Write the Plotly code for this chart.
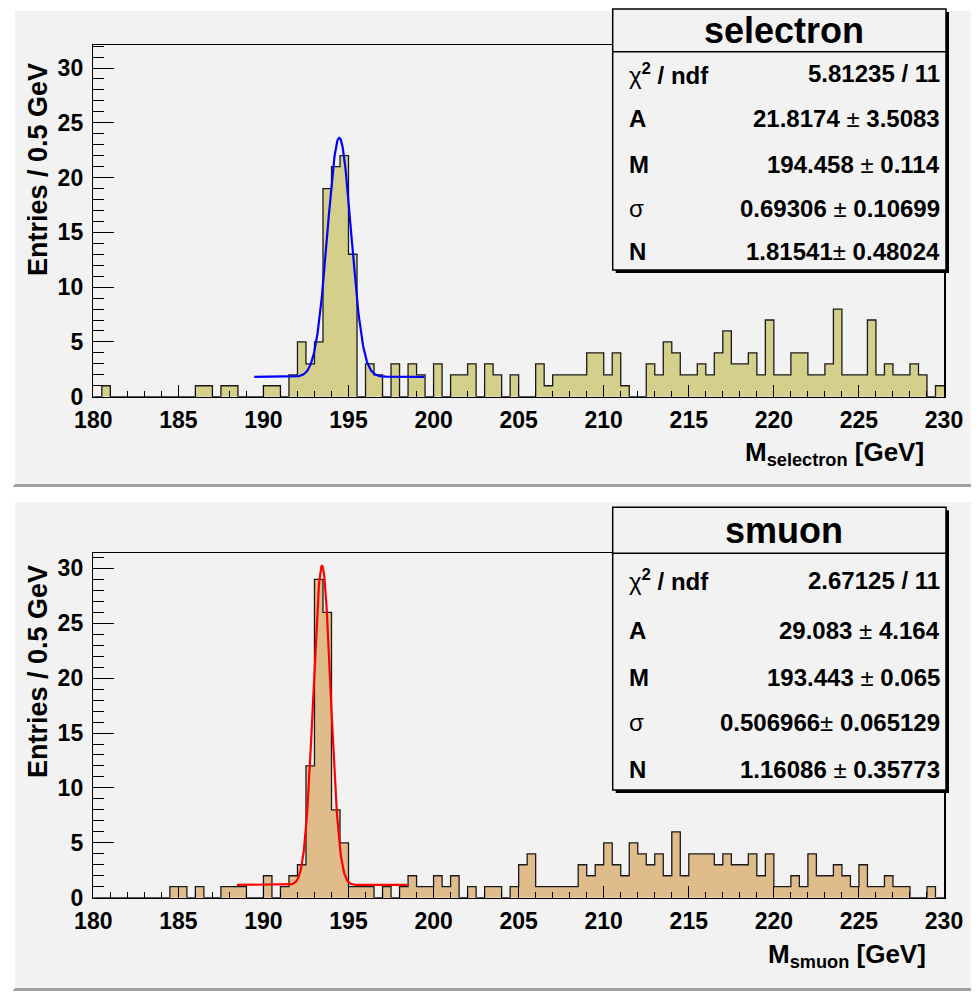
import numpy as np
import plotly.graph_objects as go

# ---------------- data ----------------
bin_lo, bin_hi, bin_width = 180.0, 230.0, 0.5

selectron_counts = [
    0, 1, 0, 0, 0, 0, 0, 0, 0, 0,
    0, 0, 1, 1, 0, 1, 1, 0, 0, 0,
    1, 1, 0, 2, 5, 3, 5, 19, 21, 22,
    13, 0, 3, 2, 0, 3, 0, 3, 2, 0,
    3, 0, 2, 2, 3, 0, 3, 2, 0, 2,
    0, 0, 3, 1, 2, 2, 2, 2, 4, 4,
    2, 4, 1, 0, 0, 3, 2, 5, 4, 2,
    2, 3, 2, 4, 6, 3, 3, 4, 2, 7,
    2, 2, 4, 4, 2, 2, 3, 8, 2, 2,
    2, 7, 2, 3, 2, 2, 3, 2, 0, 1,
]

smuon_counts = [
    0, 0, 0, 0, 0, 0, 0, 0, 0, 1,
    1, 0, 1, 0, 0, 1, 1, 1, 0, 0,
    2, 0, 1, 2, 3, 12, 29, 26, 8, 5,
    1, 1, 1, 0, 1, 0, 1, 2, 1, 1,
    2, 1, 2, 0, 1, 0, 1, 1, 0, 1,
    3, 4, 1, 1, 1, 1, 1, 3, 2, 3,
    5, 3, 2, 5, 4, 3, 4, 2, 6, 2,
    4, 4, 4, 3, 4, 3, 3, 4, 2, 4,
    1, 1, 2, 1, 4, 2, 2, 3, 2, 1,
    3, 1, 1, 2, 1, 1, 0, 0, 1, 0,
]

# fit results (Gaussian + constant), as printed in the stat boxes
sel_A, sel_M, sel_sigma, sel_N = 21.8174, 194.458, 0.69306, 1.81541
smu_A, smu_M, smu_sigma, smu_N = 29.083, 193.443, 0.506966, 1.16086
fit_halfrange = 5.0

sel_stats = [
    ("χ<b><sup>2</sup> / ndf</b>", "<b>5.81235 / 11</b>"),
    ("<b>A</b>", "<b>21.8174</b> ± <b>3.5083</b>"),
    ("<b>M</b>", "<b>194.458</b> ± <b>0.114</b>"),
    ("σ", "<b>0.69306</b> ± <b>0.10699</b>"),
    ("<b>N</b>", "<b>1.81541</b>± <b>0.48024</b>"),
]
smu_stats = [
    ("χ<b><sup>2</sup> / ndf</b>", "<b>2.67125 / 11</b>"),
    ("<b>A</b>", "<b>29.083</b> ± <b>4.164</b>"),
    ("<b>M</b>", "<b>193.443</b> ± <b>0.065</b>"),
    ("σ", "<b>0.506966</b>± <b>0.065129</b>"),
    ("<b>N</b>", "<b>1.16086</b> ± <b>0.35773</b>"),
]

# ---------------- helpers ----------------
# the page body has an 8px margin, so the figure is drawn 8px in from the
# top-left corner of the window; size it to fill the rest of the window.
OFF = 8
W, H = 979 - OFF, 995 - OFF
FONT = "Liberation Sans, Arial, Helvetica, sans-serif"
PAD = "#f2f2f2"


def px(x):
    return (x - OFF) / W


def py(y):
    return 1 - (y - OFF) / H


edges = [bin_lo + bin_width * i for i in range(len(selectron_counts) + 1)]


def step_trace(counts, fill, xa, ya):
    return go.Scatter(
        x=edges, y=list(counts) + [counts[-1]],
        mode="lines", line=dict(shape="hv", color="#1a1a1a", width=1.3),
        fill="tozeroy", fillcolor=fill, xaxis=xa, yaxis=ya,
        hoverinfo="skip", showlegend=False,
    )


def fit_trace(A, M, s, N, color, xa, ya):
    xf = np.linspace(M - fit_halfrange, M + fit_halfrange, 400)
    yf = A * np.exp(-0.5 * ((xf - M) / s) ** 2) + N
    return go.Scatter(x=xf, y=yf, mode="lines", line=dict(color=color, width=2.2),
                      xaxis=xa, yaxis=ya, hoverinfo="skip", showlegend=False)


fig = go.Figure()
fig.add_trace(step_trace(selectron_counts, "#d4cf8a", "x", "y"))
fig.add_trace(fit_trace(sel_A, sel_M, sel_sigma, sel_N, "#0000ff", "x", "y"))
fig.add_trace(step_trace(smuon_counts, "#dfbc8a", "x2", "y2"))
fig.add_trace(fit_trace(smu_A, smu_M, smu_sigma, smu_N, "#ff0000", "x2", "y2"))

tickfont = dict(family=FONT, size=23, color="black", weight="bold")


def xaxis_cfg(anchor):
    return dict(
        domain=[px(93.3), px(944)], range=[bin_lo, bin_hi], anchor=anchor,
        showline=True, linecolor="black", linewidth=1.5, mirror=True,
        ticks="inside", ticklen=12, tickwidth=1, tickcolor="black",
        tick0=180, dtick=5, tickfont=tickfont, ticklabelstandoff=2,
        minor=dict(ticks="inside", ticklen=6, dtick=1, tickcolor="black", tickwidth=1),
        showgrid=False, zeroline=False, fixedrange=True, automargin=False,
    )


def yaxis_cfg(anchor, dom, top):
    return dict(
        domain=dom, range=[0, top], anchor=anchor,
        showline=True, linecolor="black", linewidth=1.5, mirror=True,
        ticks="inside", ticklen=21, tickwidth=1, tickcolor="black",
        tick0=0, dtick=5, tickfont=tickfont, ticklabelstandoff=4,
        minor=dict(ticks="inside", ticklen=11, dtick=1, tickcolor="black", tickwidth=1),
        showgrid=False, zeroline=False, fixedrange=True, automargin=False,
    )


fig.update_layout(
    width=W, height=H, margin=dict(l=0, r=0, t=0, b=0, pad=0, autoexpand=False),
    paper_bgcolor="white", plot_bgcolor=PAD,
    xaxis=xaxis_cfg("y"),
    yaxis=yaxis_cfg("x", [py(396.7), py(45)], 32.1),
    xaxis2=xaxis_cfg("y2"),
    yaxis2=yaxis_cfg("x2", [py(897.7), py(553)], 31.4),
    showlegend=False,
)

shapes = []
annotations = []


def pad(x0, y0, x1, y1):
    shapes.append(dict(type="rect", xref="paper", yref="paper", layer="below",
                       x0=px(x0), x1=px(x1), y0=py(y1), y1=py(y0),
                       fillcolor=PAD, line=dict(width=0)))
    # dark bottom / right border
    shapes.append(dict(type="path", xref="paper", yref="paper", layer="below",
                       path=f"M {px(x0)},{py(y1)} L {px(x1)},{py(y1)} L {px(x1)},{py(y0)} "
                            f"L {px(x1-3)},{py(y0+3)} L {px(x1-3)},{py(y1-3)} L {px(x0+3)},{py(y1-3)} Z",
                       fillcolor="#a0a0a0", line=dict(width=0)))
    # light top / left border
    shapes.append(dict(type="path", xref="paper", yref="paper", layer="below",
                       path=f"M {px(x0)},{py(y1)} L {px(x0)},{py(y0)} L {px(x1)},{py(y0)} "
                            f"L {px(x1-3)},{py(y0+3)} L {px(x0+3)},{py(y0+3)} L {px(x0+3)},{py(y1-3)} Z",
                       fillcolor="#ffffff", line=dict(width=0)))


pad(12, 8, 976, 487)
pad(12, 499, 976, 991)


def statbox(x0, y0, x1, y1, ydiv, title, rows, row_y):
    shapes.append(dict(type="rect", xref="paper", yref="paper", layer="above",
                       x0=px(x0 + 3), x1=px(x1 + 3), y0=py(y1 + 3), y1=py(y0 + 3),
                       fillcolor="black", line=dict(width=0)))
    shapes.append(dict(type="rect", xref="paper", yref="paper", layer="above",
                       x0=px(x0), x1=px(x1), y0=py(y1), y1=py(y0),
                       fillcolor=PAD, line=dict(color="black", width=1.5)))
    shapes.append(dict(type="line", xref="paper", yref="paper", layer="above",
                       x0=px(x0), x1=px(x1), y0=py(ydiv), y1=py(ydiv),
                       line=dict(color="black", width=1.5)))
    annotations.append(dict(xref="paper", yref="paper", x=px((x0 + x1) / 2 + 5),
                            y=py((y0 + ydiv) / 2), text=f"<b>{title}</b>",
                            showarrow=False, xanchor="center", yanchor="middle",
                            font=dict(family=FONT, size=36, color="black")))
    for (lab, val), yy in zip(rows, row_y):
        annotations.append(dict(xref="paper", yref="paper", x=px(627), y=py(yy),
                                text=lab, showarrow=False, xanchor="left", yanchor="middle",
                                font=dict(family=FONT, size=24, color="black")))
        annotations.append(dict(xref="paper", yref="paper", x=px(942), y=py(yy),
                                text=val, showarrow=False, xanchor="right", yanchor="middle",
                                font=dict(family=FONT, size=24, color="black")))


statbox(612.7, 9, 946, 270, 51.7, "selectron", sel_stats, [74, 119, 164, 208, 252])
statbox(612.7, 507.3, 946, 790, 553.3, "smuon", smu_stats, [580, 630, 677, 722, 769])

for yc in (170, 672):
    annotations.append(dict(xref="paper", yref="paper", x=px(38), y=py(yc),
                            text="<b>Entries / 0.5 GeV</b>", textangle=-90, showarrow=False,
                            xanchor="center", yanchor="middle",
                            font=dict(family=FONT, size=27, color="black")))

annotations.append(dict(xref="paper", yref="paper", x=px(926), y=py(453),
                        text="<b>M<sub>selectron</sub> [GeV]</b>", showarrow=False,
                        xanchor="right", yanchor="middle",
                        font=dict(family=FONT, size=26, color="black")))
annotations.append(dict(xref="paper", yref="paper", x=px(928), y=py(955),
                        text="<b>M<sub>smuon</sub> [GeV]</b>", showarrow=False,
                        xanchor="right", yanchor="middle",
                        font=dict(family=FONT, size=26, color="black")))

fig.update_layout(shapes=shapes, annotations=annotations)
fig.write_html("out.html", config=dict(displayModeBar=False, staticPlot=True))
